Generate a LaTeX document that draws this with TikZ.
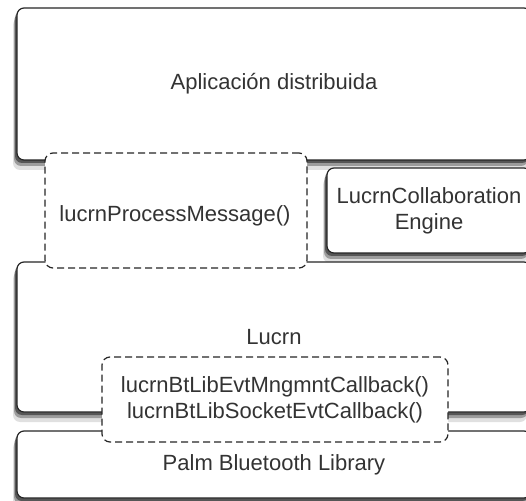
\documentclass[tikz,border=0pt]{standalone}
\usepackage{fontspec}
\setmainfont{Liberation Sans}
\usetikzlibrary{shadows}
\begin{document}
\begin{tikzpicture}[x=1pt,y=1pt,
  layer/.style={draw=black!85, line width=1.2pt, rounded corners=7pt, fill=white, inner sep=0pt,
    drop shadow={shadow xshift=-4pt, shadow yshift=-10pt, fill=black, opacity=0.12},
    drop shadow={shadow xshift=-3pt, shadow yshift=-6pt, fill=black, opacity=0.3},
    drop shadow={shadow xshift=-2pt, shadow yshift=-3pt, fill=black, opacity=0.45}},
  dbox/.style={draw=black!85, line width=1.2pt, dash pattern=on 7pt off 4pt, rounded corners=8pt, fill=white, inner sep=0pt},
  every node/.style={text=black!80, font=\fontsize{22}{26}\selectfont, align=center}]
\useasboundingbox (0,0) rectangle (526,500);
\clip (0,0) rectangle (526,500);
\node[layer, minimum width=514pt, minimum height=152pt] (app) at (274,416) {Aplicación distribuida};
\node[layer, minimum width=204pt, minimum height=85pt] (engine) at (429,289.5) {LucrnCollaboration\\Engine};
\node[layer, minimum width=514pt, minimum height=150pt] (lucrn) at (274,163) {Lucrn};
\node[layer, minimum width=514pt, minimum height=67pt] (palm) at (274,35.5) {Palm Bluetooth Library};
\node[dbox, minimum width=262pt, minimum height=115pt] (procmsg) at (176,289.5) {};
\node (proctext) at (175,284) {lucrnProcessMessage()};
\node[dbox, minimum width=346pt, minimum height=85pt] (callbacks) at (275,100.5) {lucrnBtLibEvtMngmntCallback()\\lucrnBtLibSocketEvtCallback()};
\end{tikzpicture}
\end{document}
